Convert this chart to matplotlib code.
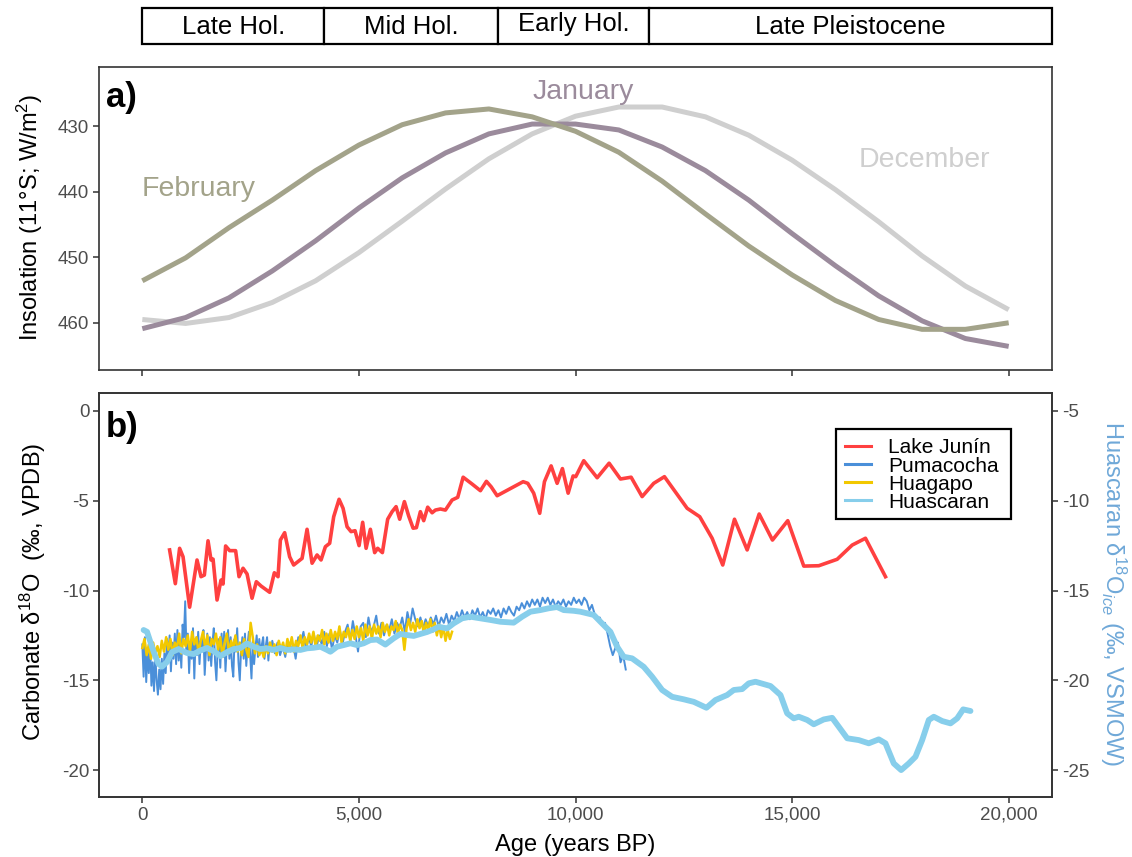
import matplotlib
matplotlib.use("Agg")
import matplotlib.pyplot as plt
from matplotlib.patches import Rectangle
from matplotlib.lines import Line2D
from matplotlib.ticker import FuncFormatter

plt.rcParams['font.family'] = ['Liberation Sans', 'DejaVu Sans']
plt.rcParams['mathtext.fontset'] = 'custom'
plt.rcParams['mathtext.rm'] = 'Liberation Sans'
plt.rcParams['mathtext.it'] = 'Liberation Sans:italic'
plt.rcParams['mathtext.bf'] = 'Liberation Sans:bold'
plt.rcParams['axes.unicode_minus'] = False

# ---------------- data ----------------
PERIOD_NAMES = ["Late Hol.", "Mid Hol.", "Early Hol.", "Late Pleistocene"]
PERIOD_BOUNDS = [0, 4200, 8200, 11700, 21000]

INSOL_AGE = [0, 1000, 2000, 3000, 4000, 5000, 6000, 7000, 8000, 9000, 10000,
             11000, 12000, 13000, 14000, 15000, 16000, 17000, 18000, 19000, 20000]
INSOL_FEB = [453.6, 450.1, 445.5, 441.3, 436.8, 432.9, 429.8, 428.0, 427.4, 428.6, 430.8,
             434.0, 438.4, 443.4, 448.3, 452.7, 456.6, 459.5, 461.0, 461.0, 460.0]
INSOL_JAN = [460.9, 459.2, 456.2, 452.1, 447.5, 442.5, 437.9, 434.1, 431.2, 429.7, 429.7,
             430.6, 433.2, 436.8, 441.3, 446.4, 451.3, 455.9, 459.7, 462.4, 463.6]
INSOL_DEC = [459.5, 460.1, 459.2, 456.9, 453.6, 449.3, 444.5, 439.6, 435.0, 431.2, 428.5,
             427.1, 427.1, 428.6, 431.4, 435.2, 439.7, 444.6, 449.8, 454.4, 458.0]

# Lake Junín carbonate d18O (age BP, permil VPDB)
JUNIN = [(630, -7.74), (762, -9.62), (861, -7.65), (940, -8.12), (1092, -10.93), (1263, -8.30),
         (1355, -9.23), (1432, -9.14), (1517, -7.23), (1586, -8.30), (1633, -8.25), (1725, -10.53),
         (1817, -9.42), (1863, -9.64), (1923, -7.52), (2016, -7.78), (2154, -7.78), (2233, -9.23),
         (2325, -8.76), (2418, -9.08), (2533, -10.43), (2632, -9.51), (2741, -9.75), (2940, -10.10),
         (3048, -9.01), (3133, -9.23), (3187, -7.19), (3286, -6.78), (3401, -8.12), (3494, -8.58),
         (3688, -8.21), (3803, -6.59), (3919, -8.48), (4034, -8.02), (4126, -8.30), (4226, -7.56),
         (4325, -7.37), (4418, -5.89), (4542, -4.92), (4634, -5.42), (4727, -6.45), (4819, -6.72),
         (4911, -6.67), (5004, -7.50), (5087, -6.20), (5166, -7.65), (5265, -6.59), (5364, -7.89),
         (5433, -7.65), (5542, -7.89), (5664, -6.03), (5766, -5.61), (5858, -5.33), (5941, -6.03),
         (6050, -5.05), (6149, -5.85), (6251, -6.53), (6327, -6.50), (6419, -5.61), (6496, -6.11),
         (6588, -5.36), (6690, -5.67), (6766, -5.52), (6881, -5.46), (6997, -5.52), (7151, -4.96),
         (7281, -4.81), (7406, -3.69), (7613, -4.07), (7805, -4.44), (7943, -3.92), (8052, -4.22),
         (8191, -4.72), (8791, -3.94), (8898, -4.03), (9035, -4.58), (9174, -5.70), (9283, -3.94),
         (9437, -3.06), (9576, -4.03), (9698, -3.21), (9830, -4.58), (9945, -3.62), (10005, -3.66),
         (10190, -2.77), (10500, -3.72), (10776, -2.91), (11038, -3.79), (11284, -3.69),
         (11538, -4.77), (11806, -4.03), (12053, -3.66), (12577, -5.42), (12868, -5.89),
         (13154, -7.09), (13399, -8.58), (13670, -6.03), (13963, -7.74), (14240, -5.74),
         (14547, -7.19), (14900, -6.11), (15270, -8.64), (15616, -8.62), (16041, -8.26),
         (16387, -7.47), (16694, -7.09), (17156, -9.23)]

# Pumacocha carbonate d18O (age BP, permil VPDB)
PUMACOCHA = [(0, -13.0), (30, -14.8), (60, -12.6), (90, -15.1), (120, -13.4), (150, -14.6),
             (180, -12.9), (210, -15.3), (240, -14.0), (270, -15.6), (300, -13.6), (330, -15.0),
             (360, -15.8), (390, -14.4), (420, -15.5), (450, -13.8), (480, -15.2), (510, -13.5),
             (540, -14.6), (570, -12.7), (600, -13.9), (630, -12.5), (660, -14.5), (690, -12.9),
             (720, -13.8), (750, -12.4), (780, -14.1), (810, -12.2), (840, -13.9), (870, -12.8),
             (900, -14.3), (930, -11.9), (960, -12.6), (990, -10.6), (1020, -13.5), (1050, -12.4),
             (1080, -14.6), (1110, -12.9), (1140, -13.8), (1170, -12.1), (1200, -14.9), (1230, -12.7),
             (1260, -13.6), (1290, -12.3), (1320, -14.1), (1350, -12.8), (1380, -13.4), (1410, -12.2),
             (1440, -14.7), (1470, -13.3), (1500, -12.4), (1530, -13.9), (1560, -12.6), (1590, -14.2),
             (1620, -12.9), (1650, -12.1), (1680, -14.0), (1710, -15.0), (1740, -13.2), (1770, -12.7),
             (1800, -14.3), (1830, -12.4), (1860, -13.7), (1890, -12.3), (1920, -14.5), (1950, -13.1),
             (1980, -12.2), (2010, -13.8), (2040, -12.6), (2070, -14.2), (2100, -14.8), (2130, -12.7),
             (2160, -13.4), (2190, -12.1), (2220, -14.0), (2250, -15.0), (2280, -13.3), (2310, -12.6),
             (2340, -13.8), (2370, -12.4), (2400, -14.2), (2430, -13.0), (2460, -12.3), (2490, -13.6),
             (2520, -14.9), (2550, -12.8), (2580, -14.1), (2610, -13.2), (2640, -12.5), (2670, -13.7),
             (2700, -12.7), (2730, -13.5), (2760, -13.0), (2790, -12.6), (2820, -13.8), (2850, -13.1),
             (2880, -12.6), (2910, -13.9), (2940, -12.9), (2970, -13.4), (3000, -12.8),
             (3060, -13.5), (3120, -12.9), (3180, -13.6), (3240, -13.1), (3300, -13.7), (3360, -12.8),
             (3420, -13.4), (3480, -13.0), (3540, -13.8), (3600, -12.6), (3660, -12.9), (3720, -12.3),
             (3780, -13.3), (3840, -12.6), (3900, -13.1), (3960, -12.4), (4020, -13.2), (4080, -12.5),
             (4140, -13.0), (4200, -12.3), (4260, -13.1), (4320, -12.4), (4380, -13.3), (4440, -12.5),
             (4500, -12.9), (4560, -12.2), (4620, -13.0), (4680, -12.3), (4740, -11.9), (4800, -12.8),
             (4860, -11.7), (4920, -12.5), (4980, -13.4), (5040, -12.0), (5100, -11.8), (5160, -12.6),
             (5220, -11.5), (5280, -12.3), (5340, -12.0), (5400, -11.4), (5460, -12.4), (5520, -11.8),
             (5580, -12.5), (5640, -11.9), (5700, -12.2), (5760, -11.6), (5820, -12.4), (5880, -11.8),
             (5940, -12.1), (6000, -11.5), (6060, -12.3), (6120, -11.2), (6180, -11.9), (6240, -11.0),
             (6300, -11.6), (6360, -12.0), (6420, -11.5), (6480, -12.1), (6540, -11.6), (6600, -12.0),
             (6660, -11.5), (6720, -11.9), (6780, -11.4), (6840, -12.0), (6900, -11.5), (6960, -11.8),
             (7020, -11.3), (7080, -11.9), (7140, -11.4), (7200, -11.7), (7260, -11.2), (7320, -11.6),
             (7380, -11.1), (7440, -11.5), (7500, -11.2), (7560, -11.6), (7620, -11.1), (7680, -11.4),
             (7740, -11.0), (7800, -11.5), (7860, -11.2), (7920, -11.6), (7980, -11.1), (8040, -11.3),
             (8100, -11.0), (8160, -11.4), (8220, -11.1), (8280, -11.5), (8340, -11.0), (8400, -11.3),
             (8460, -10.9), (8520, -11.2), (8580, -11.4), (8640, -10.9), (8700, -11.1), (8760, -10.7),
             (8820, -11.0), (8880, -10.6), (8940, -10.9), (9000, -10.5), (9060, -10.8), (9120, -10.5),
             (9180, -10.9), (9240, -10.4), (9300, -10.7), (9360, -10.4), (9420, -10.8), (9480, -10.5),
             (9540, -10.9), (9600, -10.6), (9660, -10.8), (9720, -10.5), (9780, -10.9), (9840, -10.6),
             (9900, -10.8), (9960, -10.4), (10020, -10.7), (10080, -10.5), (10140, -10.8), (10200, -10.4),
             (10260, -10.6), (10320, -11.1), (10380, -10.8), (10440, -11.3), (10500, -11.6),
             (10560, -11.5), (10620, -11.9), (10680, -11.8), (10740, -12.4), (10800, -13.1),
             (10860, -13.6), (10920, -13.2), (10980, -12.9), (11040, -14.0), (11100, -13.6),
             (11160, -14.4)]

# Huagapo carbonate d18O (age BP, permil VPDB)
HUAGAPO = [(0, -13.2), (50, -12.7), (100, -13.6), (150, -13.0), (200, -13.8), (250, -12.9),
           (300, -13.5), (350, -13.1), (400, -13.7), (450, -12.8), (500, -13.4), (550, -12.6),
           (600, -13.3), (650, -12.7), (700, -13.6), (750, -12.9), (800, -13.2), (850, -12.4),
           (900, -13.5), (950, -12.7), (1000, -13.1), (1050, -12.5), (1100, -13.4), (1150, -12.3),
           (1200, -13.0), (1250, -12.6), (1300, -13.5), (1350, -12.8), (1400, -12.3), (1450, -13.2),
           (1500, -12.5), (1550, -13.6), (1600, -12.7), (1650, -13.0), (1700, -12.4), (1750, -13.3),
           (1800, -12.6), (1850, -13.7), (1900, -12.9), (1950, -12.4), (2000, -13.5), (2050, -12.8),
           (2100, -13.2), (2150, -12.5), (2200, -13.4), (2250, -12.9), (2300, -13.6), (2350, -12.7),
           (2400, -13.3), (2450, -13.7), (2500, -11.8), (2550, -12.6), (2600, -13.5), (2650, -13.0),
           (2700, -13.6), (2750, -13.2), (2800, -13.7), (2850, -13.1), (2900, -13.5), (2950, -12.9),
           (3000, -13.4), (3050, -13.0), (3100, -13.6), (3150, -12.8), (3200, -13.3), (3250, -12.9),
           (3300, -13.5), (3350, -12.7), (3400, -13.2), (3450, -12.6), (3500, -13.4), (3550, -12.8),
           (3600, -13.1), (3650, -12.5), (3700, -13.2), (3750, -12.6), (3800, -13.0), (3850, -12.4),
           (3900, -12.9), (3950, -12.3), (4000, -13.1), (4050, -12.5), (4100, -12.8), (4150, -12.2),
           (4200, -13.0), (4250, -12.4), (4300, -12.9), (4350, -12.2), (4400, -12.8), (4450, -12.3),
           (4500, -12.7), (4550, -12.0), (4600, -12.9), (4650, -12.3), (4700, -12.6), (4750, -12.1),
           (4800, -12.8), (4850, -12.2), (4900, -12.7), (4950, -12.0), (5000, -12.6), (5050, -12.1),
           (5100, -12.8), (5150, -11.9), (5200, -12.5), (5250, -12.0), (5300, -12.7), (5350, -11.9),
           (5400, -12.4), (5450, -12.0), (5500, -12.6), (5550, -11.8), (5600, -12.3), (5650, -11.9),
           (5700, -12.5), (5750, -12.0), (5800, -12.2), (5850, -11.7), (5900, -12.4), (5950, -11.9),
           (6000, -12.2), (6050, -13.3), (6100, -12.1), (6150, -11.6), (6200, -12.2), (6250, -11.8),
           (6300, -12.3), (6350, -11.6), (6400, -12.1), (6450, -11.7), (6500, -12.4), (6550, -11.8),
           (6600, -12.2), (6650, -11.6), (6700, -12.3), (6750, -11.8), (6800, -12.5), (6850, -11.9),
           (6900, -12.6), (6950, -12.0), (7000, -12.8), (7050, -12.2), (7100, -12.7), (7150, -12.3)]

# Huascaran ice-core d18O (age BP, permil VSMOW)
HUASCARAN = [(30, -17.20), (109, -17.30), (261, -18.41), (369, -19.07), (455, -19.24), (570, -18.98),
             (686, -18.43), (838, -18.26), (1032, -18.48), (1185, -18.54), (1339, -18.34),
             (1494, -18.20), (1646, -18.37), (1801, -18.65), (1956, -18.43), (2108, -18.26),
             (2263, -18.20), (2417, -17.95), (2570, -18.13), (2725, -18.26), (2879, -18.22),
             (3032, -18.31), (3187, -18.20), (3341, -18.31), (3494, -18.28), (3648, -18.31),
             (3803, -18.22), (3955, -18.19), (4110, -18.13), (4265, -18.31), (4341, -18.41),
             (4496, -18.13), (4648, -18.04), (4803, -17.94), (4957, -18.04), (5110, -17.94),
             (5265, -17.76), (5419, -17.73), (5611, -18.01), (5803, -17.66), (5957, -17.42),
             (6112, -17.48), (6264, -17.53), (6419, -17.42), (6574, -17.31), (6719, -17.17),
             (6842, -17.02), (7036, -17.11), (7188, -16.83), (7382, -16.55), (7574, -16.46),
             (7805, -16.55), (8036, -16.64), (8267, -16.74), (8573, -16.79), (8767, -16.46),
             (8959, -16.18), (9190, -16.09), (9382, -15.99), (9575, -15.92), (9728, -16.09),
             (9959, -16.13), (10113, -16.18), (10268, -16.27), (10421, -16.36), (10575, -16.74),
             (10806, -17.30), (10961, -18.13), (11113, -18.69), (11307, -18.78), (11575, -19.25),
             (11769, -19.80), (12000, -20.54), (12231, -20.92), (12499, -21.06), (12730, -21.20),
             (13023, -21.53), (13231, -21.10), (13501, -20.82), (13654, -20.54), (13848, -20.49),
             (14000, -20.17), (14155, -20.08), (14502, -20.32), (14732, -20.82), (14886, -21.84),
             (15038, -22.12), (15154, -22.03), (15348, -22.21), (15500, -22.45), (15731, -22.18),
             (15925, -22.09), (16078, -22.59), (16272, -23.23), (16539, -23.33), (16770, -23.51),
             (17001, -23.29), (17156, -23.51), (17347, -24.63), (17518, -25.00), (17694, -24.63),
             (17848, -24.26), (18003, -23.33), (18156, -22.21), (18271, -22.03), (18465, -22.27),
             (18657, -22.40), (18811, -22.12), (18950, -21.62), (19118, -21.71)]

# ---------------- styling ----------------
W, H = 1132, 857
FRAME = '#333333'
TICKLAB = '#4d4d4d'
C_FEB, C_JAN, C_DEC = '#a3a38a', '#9b8b9c', '#cfcfcf'
C_JUNIN, C_PUMA, C_HUAG, C_HUAS = '#ff4040', '#4a8fd9', '#f2c800', '#87ceeb'
C_HUAS_LABEL = '#6fa8d8'
TICK_SIZE = 13.5
TITLE_SIZE = 17

fig = plt.figure(figsize=(W / 100, H / 100), dpi=100)


def px_axes(x0, y0, x1, y1):
    return fig.add_axes([x0 / W, 1 - y1 / H, (x1 - x0) / W, (y1 - y0) / H])


def fx(x):
    return x / W


def fy(y):
    return 1 - y / H


XLIM = (-1000, 21000)
XTICKS = [0, 5000, 10000, 15000, 20000]


def style_axes(ax):
    for s in ax.spines.values():
        s.set_color(FRAME)
        s.set_linewidth(1.2)
    ax.tick_params(direction='out', length=4, width=1.1, color=FRAME,
                   labelsize=TICK_SIZE, labelcolor=TICKLAB, pad=3)


# ---------------- period bar ----------------
ax_bar = px_axes(99, 8, 1052, 44)
ax_bar.set_xlim(*XLIM)
ax_bar.set_ylim(0, 1)
ax_bar.axis('off')
for i, name in enumerate(PERIOD_NAMES):
    x0, x1 = PERIOD_BOUNDS[i], PERIOD_BOUNDS[i + 1]
    ax_bar.add_patch(Rectangle((x0, 0), x1 - x0, 1, facecolor='white',
                               edgecolor='black', linewidth=1.6, clip_on=False))
    yoff = 0.56 if name == "Early Hol." else 0.47
    ax_bar.text((x0 + x1) / 2, yoff, name, ha='center', va='center', fontsize=18.5)

# ---------------- panel a: insolation ----------------
ax_a = px_axes(99, 67, 1052, 370)
style_axes(ax_a)
ax_a.plot(INSOL_AGE, INSOL_DEC, color=C_DEC, lw=3.6, solid_capstyle='butt')
ax_a.plot(INSOL_AGE, INSOL_JAN, color=C_JAN, lw=3.6, solid_capstyle='butt')
ax_a.plot(INSOL_AGE, INSOL_FEB, color=C_FEB, lw=3.6, solid_capstyle='butt')
ax_a.set_xlim(*XLIM)
ax_a.set_ylim(467.2, 421)
ax_a.set_yticks([430, 440, 450, 460])
ax_a.set_xticks(XTICKS)
ax_a.tick_params(axis='x', labelbottom=False)
ax_a.text(1300, 439.6, "February", color=C_FEB, fontsize=20.5, ha='center', va='center')
ax_a.text(10180, 424.8, "January", color=C_JAN, fontsize=20.5, ha='center', va='center')
ax_a.text(18060, 435.2, "December", color=C_DEC, fontsize=20.5, ha='center', va='center')

# ---------------- panel b: d18O records ----------------
ax_b = px_axes(99, 393, 1052, 797)
style_axes(ax_b)
ages, vals = zip(*PUMACOCHA)
ax_b.plot(ages, vals, color=C_PUMA, lw=1.4)
ages, vals = zip(*HUAGAPO)
ax_b.plot(ages, vals, color=C_HUAG, lw=1.8)
ages, vals = zip(*JUNIN)
ax_b.plot(ages, vals, color=C_JUNIN, lw=2.6)
ax_b.set_xlim(*XLIM)
ax_b.set_ylim(-21.5, 1.0)
ax_b.set_yticks([-20, -15, -10, -5, 0])
ax_b.set_xticks(XTICKS)
ax_b.xaxis.set_major_formatter(FuncFormatter(lambda v, p: f"{int(v):,}"))

ax_h = ax_b.twinx()
style_axes(ax_h)
ages, vals = zip(*HUASCARAN)
ax_h.plot(ages, vals, color=C_HUAS, lw=4.2, solid_capstyle='round')
ax_h.set_ylim(-26.5, -4.0)
ax_h.set_yticks([-25, -20, -15, -10, -5])

# legend box
leg_items = [("Lake Junín", C_JUNIN), ("Pumacocha", C_PUMA),
             ("Huagapo", C_HUAG), ("Huascaran", C_HUAS)]
fig.add_artist(Rectangle((fx(836), fy(519)), fx(1011) - fx(836), fy(429) - fy(519),
                         transform=fig.transFigure, facecolor='white',
                         edgecolor='black', linewidth=1.6, zorder=10))
for i, (lab, col) in enumerate(leg_items):
    yy = 446 + i * 18
    fig.add_artist(Line2D([fx(845), fx(871)], [fy(yy), fy(yy)], transform=fig.transFigure,
                          color=col, lw=2.2, zorder=11))
    fig.text(fx(888), fy(yy), lab, fontsize=15, ha='left', va='center_baseline', zorder=11)

# ---------------- labels ----------------
fig.text(fx(106), fy(97), "a)", fontsize=25, fontweight='bold', ha='left', va='center')
fig.text(fx(106), fy(428), "b)", fontsize=25, fontweight='bold', ha='left', va='center')
fig.text(fx(30), fy(217), "Insolation (11°S; W/m$^2$)", fontsize=TITLE_SIZE, rotation=90,
         ha='center', va='center')
fig.text(fx(33), fy(592), "Carbonate δ$^{18}$O  (‰, VPDB)", fontsize=TITLE_SIZE, rotation=90,
         ha='center', va='center')
fig.text(fx(1113), fy(594), "Huascaran δ$^{18}$O$_{ice}$ (‰, VSMOW)", fontsize=TITLE_SIZE,
         rotation=270, ha='center', va='center', color=C_HUAS_LABEL)
fig.text(fx(575), fy(845), "Age (years BP)", fontsize=TITLE_SIZE, ha='center', va='center')

fig.savefig("out.png", dpi=100)
